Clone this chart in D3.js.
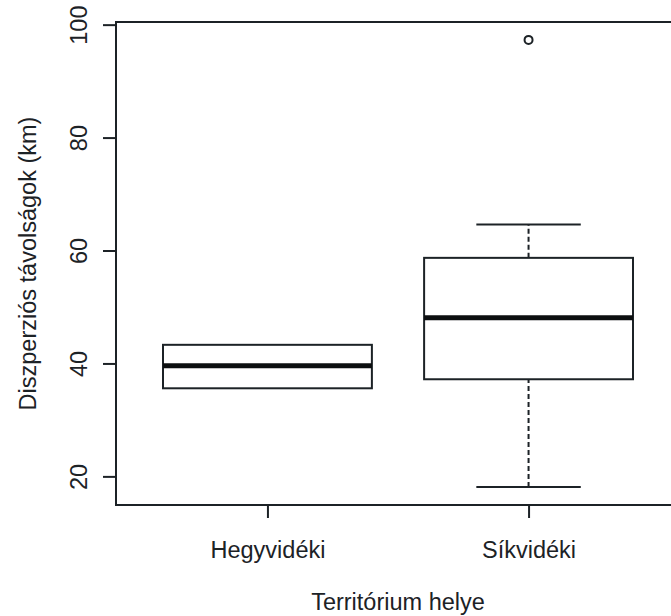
<!DOCTYPE html>
<html>
<head>
<meta charset="utf-8">
<script src="https://cdn.jsdelivr.net/npm/d3@7"></script>
<style>
  html, body { margin: 0; padding: 0; background: #fff; }
  svg { display: block; }
  text { font-family: "Liberation Sans", Arial, sans-serif; fill: #1c2226; }
</style>
</head>
<body>
<svg id="chart" width="671" height="616"></svg>
<script>
// Box summaries per territory type (km)
const categories = ["Hegyvidéki", "Síkvidéki"];
const whiskerLow = [35.6, 18.1];
const quartile1 = [35.6, 37.2];
const medians = [39.6, 48.1];
const quartile3 = [43.3, 58.7];
const whiskerHigh = [43.3, 64.6];
const outliers = [[], [97.3]];
const yTicks = [20, 40, 60, 80, 100];

const ink = "#1c2226";
const fontSize = "23.5px";
const svg = d3.select("#chart");

// Plot region (R-style: 4% padding around the data range)
const plotLeft = 116, plotTop = 22, plotBottom = 505, plotRight = 680;
const xPad = 0.04 * categories.length;
const x = d3.scaleLinear()
  .domain([0.5 - xPad, categories.length + 0.5 + xPad])
  .range([plotLeft, plotRight]);

const allVals = whiskerLow.concat(whiskerHigh, outliers.flat());
const lo = d3.min(allVals), hi = d3.max(allVals);
const yPad = 0.04 * (hi - lo);
const y = d3.scaleLinear().domain([lo - yPad, hi + yPad]).range([plotBottom, plotTop]);

const boxHalf = 0.4, capHalf = 0.2;

const boxes = categories.map((c, i) => ({
  pos: i + 1, lo: whiskerLow[i], q1: quartile1[i], med: medians[i],
  q3: quartile3[i], hi: whiskerHigh[i], out: outliers[i]
}));

const g = svg.append("g");

// whiskers (dashed) and staples
boxes.forEach(b => {
  [[b.lo, b.q1], [b.q3, b.hi]].forEach(([a, c]) => {
    if (a !== c) {
      g.append("line")
        .attr("x1", x(b.pos)).attr("x2", x(b.pos))
        .attr("y1", y(a)).attr("y2", y(c))
        .attr("stroke", ink).attr("stroke-width", 2)
        .attr("stroke-dasharray", "5,3");
    }
  });
  [b.lo, b.hi].forEach(v => {
    if (v !== b.q1 && v !== b.q3) {
      g.append("line")
        .attr("x1", x(b.pos - capHalf)).attr("x2", x(b.pos + capHalf))
        .attr("y1", y(v)).attr("y2", y(v))
        .attr("stroke", ink).attr("stroke-width", 2);
    }
  });
  g.append("rect")
    .attr("x", x(b.pos - boxHalf)).attr("y", y(b.q3))
    .attr("width", x(b.pos + boxHalf) - x(b.pos - boxHalf))
    .attr("height", y(b.q1) - y(b.q3))
    .attr("fill", "none").attr("stroke", ink).attr("stroke-width", 2);
  g.append("line")
    .attr("x1", x(b.pos - boxHalf)).attr("x2", x(b.pos + boxHalf))
    .attr("y1", y(b.med)).attr("y2", y(b.med))
    .attr("stroke", "#0c0f10").attr("stroke-width", 5);
  b.out.forEach(v => {
    g.append("circle")
      .attr("cx", x(b.pos)).attr("cy", y(v)).attr("r", 4)
      .attr("fill", "none").attr("stroke", ink).attr("stroke-width", 2);
  });
});

// frame
svg.append("rect")
  .attr("x", plotLeft).attr("y", plotTop)
  .attr("width", plotRight - plotLeft).attr("height", plotBottom - plotTop)
  .attr("fill", "none").attr("stroke", ink).attr("stroke-width", 2);

// y axis
const yAxis = svg.append("g")
  .attr("transform", `translate(${plotLeft},0)`)
  .call(d3.axisLeft(y).tickValues(yTicks).tickSize(13).tickFormat(d3.format("d")));
yAxis.select(".domain").remove();
yAxis.selectAll(".tick line").attr("stroke", ink).attr("stroke-width", 2);
yAxis.selectAll(".tick text")
  .attr("x", null).attr("dy", null)
  .attr("transform", "translate(-29,0) rotate(-90)")
  .attr("text-anchor", "middle")
  .style("font-size", fontSize).attr("fill", ink);

// x axis
const xAxis = svg.append("g")
  .attr("transform", `translate(0,${plotBottom})`)
  .call(d3.axisBottom(x).tickValues(d3.range(1, categories.length + 1))
    .tickSize(13).tickFormat(d => categories[d - 1]));
xAxis.select(".domain").remove();
xAxis.selectAll(".tick line").attr("stroke", ink).attr("stroke-width", 2);
xAxis.selectAll(".tick text")
  .attr("y", 53).attr("dy", null)
  .style("font-size", fontSize).attr("fill", ink);

// titles
svg.append("text")
  .attr("x", (plotLeft + plotRight) / 2).attr("y", 610)
  .attr("text-anchor", "middle").style("font-size", fontSize)
  .text("Territórium helye");
svg.append("text")
  .attr("transform", `translate(36,${(plotTop + plotBottom) / 2}) rotate(-90)`)
  .attr("text-anchor", "middle").style("font-size", fontSize)
  .text("Diszperziós távolságok (km)");
</script>
</body>
</html>
